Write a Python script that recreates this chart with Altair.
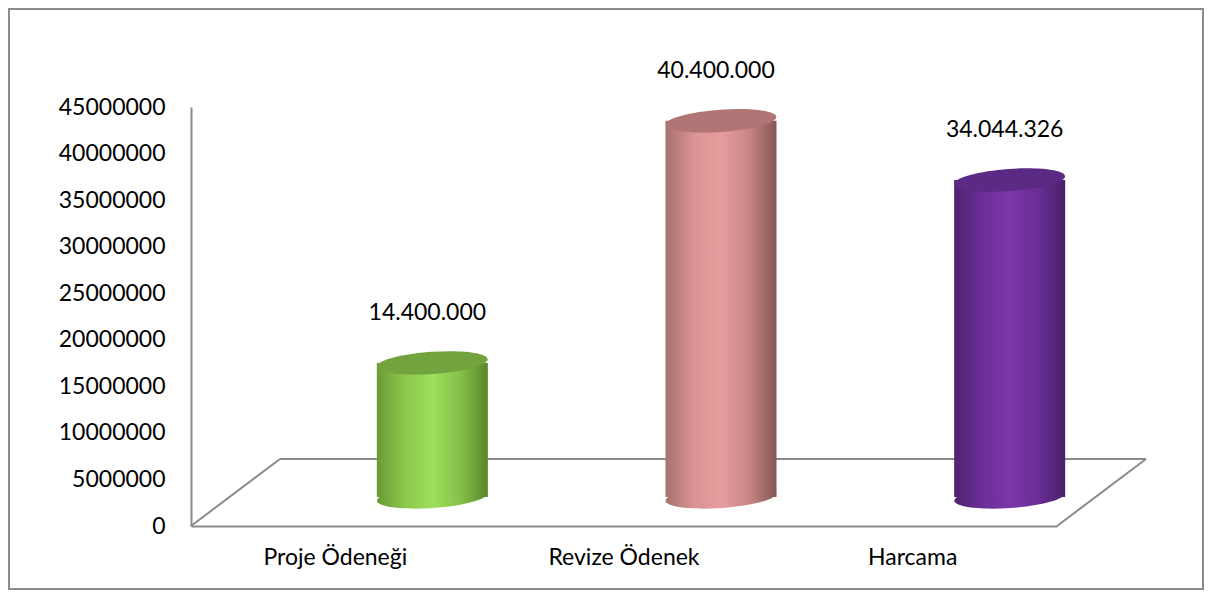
import altair as alt
import pandas as pd

categories = ["Proje Ödeneği", "Revize Ödenek", "Harcama"]
values = [14400000, 40400000, 34044326]
value_labels = ["14.400.000", "40.400.000", "34.044.326"]
y_ticks = [0, 5000000, 10000000, 15000000, 20000000, 25000000, 30000000, 35000000, 40000000, 45000000]

# side gradient stops (left, light, right) and top cap colour per cylinder
side_colors = [
    ["#6a9a34", "#8cc84c", "#9ee05b", "#86c04a", "#5a862a"],
    ["#a77170", "#d99392", "#e69e9d", "#c98584", "#835756"],
    ["#4e2270", "#6c2f97", "#7b36a9", "#6a2e95", "#48206a"],
]
top_colors = ["#73a33e", "#b07574", "#5b2a84"]

df = pd.DataFrame({"cat": categories, "value": values, "label": value_labels})

FONT = "Lato"
W, H = 866, 419
XOFF, YOFF = 97, -29
ELL = "M -1 0 A 1 0.2 0 1 0 1 0 A 1 0.2 0 1 0 -1 0 Z"
SIZE = 111 * 111

x_enc = alt.X("cat:N", sort=categories, title=None,
              scale=alt.Scale(paddingInner=0, paddingOuter=0),
              axis=alt.Axis(labelFont=FONT, labelFontSize=23, labelColor="#000000",
                            labelPadding=20, ticks=False, domainColor="#8a8a8a",
                            domainWidth=2, labelAngle=0))
y_scale = alt.Scale(domain=[0, 45000000], nice=False, zero=True)
y_axis = alt.Axis(values=y_ticks, format="d", labelFont=FONT, labelFontSize=23,
                  labelColor="#000000", labelPadding=26, ticks=False, grid=False,
                  domainColor="#8a8a8a", domainWidth=2)


def y_of(field):
    return alt.Y(field, title=None, scale=y_scale, axis=y_axis)


dummy = alt.Data(values=[{"a": 1}])
line_style = dict(color="#8a8a8a", strokeWidth=2)


def seg(x1, y1, x2, y2):
    return alt.Chart(dummy).mark_rule(**line_style).encode(
        x=alt.value(x1), x2=alt.value(x2), y=alt.value(y1), y2=alt.value(y2))


border = alt.Chart(dummy).mark_rect(filled=False, color="#8c8c8c", strokeWidth=2).encode(
    x=alt.value(-182), x2=alt.value(1012), y=alt.value(-98), y2=alt.value(482))

floor = [seg(0, H, 89, H - 67), seg(89, H - 67, 955, H - 67), seg(955, H - 67, 866, H)]

base = alt.Chart(df).encode(x=x_enc)
axes_layer = base.mark_bar(opacity=0).encode(y=y_of("value:Q"))

cyl_layers = []
for i, c in enumerate(categories):
    n = len(side_colors[i]) - 1
    grad = alt.Gradient(gradient="linear", x1=0, x2=1, y1=0, y2=0,
                        stops=[alt.GradientStop(offset=k / n, color=col)
                               for k, col in enumerate(side_colors[i])])
    sub = alt.Chart(df).transform_filter(alt.datum.cat == c).encode(x=x_enc)
    bottom = sub.transform_calculate(zero="0").mark_point(
        shape=ELL, size=SIZE, filled=True, fill=grad, strokeWidth=0,
        opacity=1, angle=356, xOffset=XOFF, yOffset=YOFF).encode(y=y_of("zero:Q"))
    side = sub.mark_bar(width=111, fill=grad, xOffset=XOFF, yOffset=YOFF).encode(
        y=y_of("value:Q"))
    top = sub.mark_point(shape=ELL, size=SIZE, filled=True, fill=top_colors[i], strokeWidth=0,
                         opacity=1, angle=356, xOffset=XOFF, yOffset=YOFF).encode(
        y=y_of("value:Q"))
    cyl_layers += [bottom, side, top]

labels = base.mark_text(font=FONT, fontSize=23, color="#000000", baseline="middle",
                        xOffset=XOFF - 5, yOffset=YOFF - 50).encode(
    y=y_of("value:Q"), text="label:N")

chart = alt.layer(border, *floor, axes_layer, *cyl_layers, labels).properties(
    width=W, height=H,
    background="#ffffff",
    autosize=alt.AutoSizeParams(type="none"),
    padding={"left": 183, "top": 99, "right": 147, "bottom": 73},
).configure_view(stroke=None)

chart.save("out.html", embed_options={"renderer": "svg", "actions": False})
